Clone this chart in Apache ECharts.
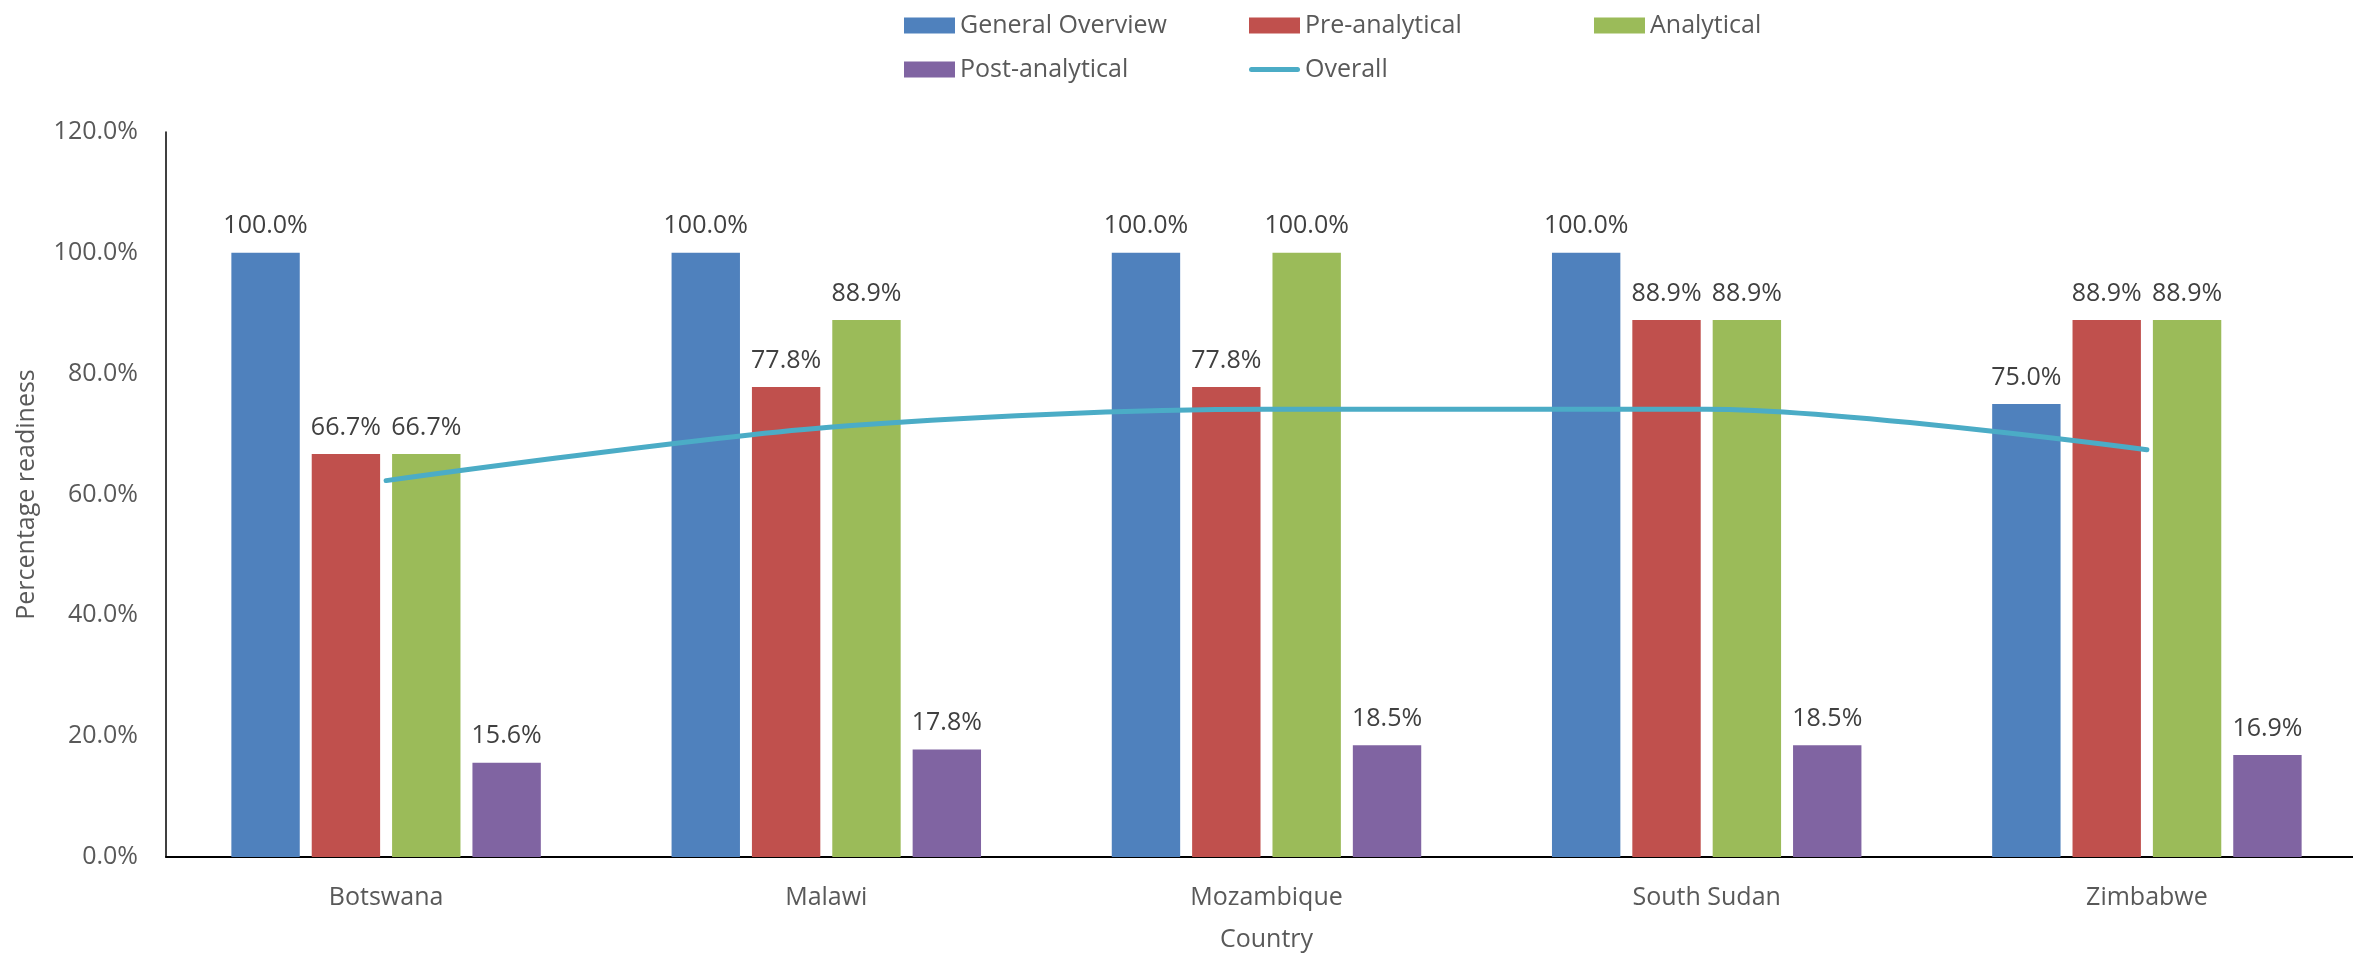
<!DOCTYPE html>
<html><head><meta charset="utf-8">
<script src="https://cdn.jsdelivr.net/npm/echarts@6/dist/echarts.min.js"></script>
<style>html,body{margin:0;padding:0;background:#fff}#c{width:2353px;height:953px}</style>
</head><body><div id="c"></div>
<script>
const countries = ['Botswana','Malawi','Mozambique','South Sudan','Zimbabwe'];
const generalOverview = [100.0,100.0,100.0,100.0,75.0];
const preAnalytical = [66.7,77.8,77.8,88.9,88.9];
const analytical = [66.7,88.9,100.0,88.9,88.9];
const postAnalytical = [15.6,17.8,18.5,18.5,16.9];
const overall = [62.3,71.1,74.1,74.1,67.4];
const yTicks = {min:0,max:120,interval:20};
const seriesNames = ['General Overview','Pre-analytical','Analytical','Post-analytical','Overall'];

const FONT = 'Open Sans';
const FS = 25;
const chart = echarts.init(document.getElementById('c'));
const lbl = {show:true,position:'top',distance:14,color:'#404040',fontFamily:FONT,fontSize:FS,formatter:p=>p.value.toFixed(1)+'%'};
function bar(name,data,color){
  return {name,type:'bar',data,barGap:'17.5%',barCategoryGap:'29.7%',itemStyle:{color},label:lbl};
}
const legText = {fontFamily:FONT,fontSize:FS,color:'#595959'};
const lineIcon = 'path://M2.5,0 H48.5 A2.5,2.5 0 0 1 48.5,5 H2.5 A2.5,2.5 0 0 1 2.5,0 Z';
function leg(name,left,top,icon,h){
  return {left,top,itemWidth:51,itemHeight:h,icon,textStyle:legText,itemGap:10,data:[name]};
}
chart.setOption({
  animation:false,
  legend:[
    leg(seriesNames[0],899,8,'rect',16),
    leg(seriesNames[1],1244,8,'rect',16),
    leg(seriesNames[2],1589,8,'rect',16),
    leg(seriesNames[3],899,52,'rect',16),
    leg(seriesNames[4],1244,52,lineIcon,5)
  ],
  grid:{left:166,width:2201,top:132,bottom:96,containLabel:false,outerBoundsMode:'none'},
  xAxis:{type:'category',data:countries,
    axisLine:{lineStyle:{color:'#000',width:2}},axisTick:{show:false},
    axisLabel:{color:'#595959',fontFamily:FONT,fontSize:FS,margin:28},
    name:'Country',nameLocation:'middle',nameGap:70,
    nameTextStyle:{color:'#595959',fontFamily:FONT,fontSize:FS}},
  yAxis:{type:'value',min:yTicks.min,max:yTicks.max,interval:yTicks.interval,
    splitLine:{show:false},axisLine:{show:true,lineStyle:{color:'#000',width:1.5}},axisTick:{show:false},
    axisLabel:{color:'#595959',fontFamily:FONT,fontSize:FS,margin:28,formatter:v=>v.toFixed(1)+'%'},
    name:'Percentage readiness',nameLocation:'middle',nameGap:127,
    nameTextStyle:{color:'#595959',fontFamily:FONT,fontSize:FS}},
  series:[
    bar(seriesNames[0],generalOverview,'#4F81BD'),
    bar(seriesNames[1],preAnalytical,'#C0504D'),
    bar(seriesNames[2],analytical,'#9BBB59'),
    bar(seriesNames[3],postAnalytical,'#8064A2'),
    {name:seriesNames[4],type:'line',data:overall,smooth:0.3,symbol:'none',
     lineStyle:{color:'#4BACC6',width:5,cap:'round'},itemStyle:{color:'#4BACC6'},z:5}
  ]
});
</script></body></html>
